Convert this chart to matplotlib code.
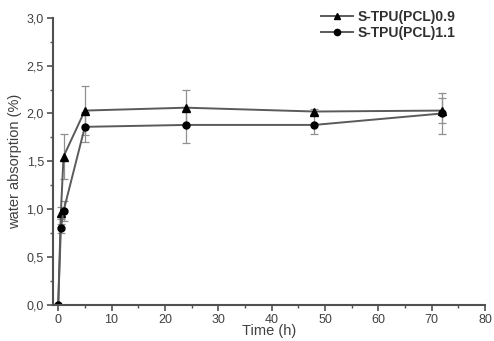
import matplotlib
matplotlib.use("Agg")
import matplotlib.pyplot as plt
from matplotlib.lines import Line2D
from matplotlib.ticker import MultipleLocator, FuncFormatter

# water absorption data
time_09 = [0, 0.5, 1, 5, 24, 48, 72]
wa_09 = [0, 0.96, 1.55, 2.03, 2.06, 2.02, 2.03]
err_09 = [0, 0.06, 0.24, 0.26, 0.19, 0.03, 0.13]

time_11 = [0, 0.5, 1, 5, 24, 48, 72]
wa_11 = [0, 0.80, 0.98, 1.86, 1.88, 1.88, 2.00]
err_11 = [0, 0.05, 0.10, 0.16, 0.19, 0.10, 0.21]

labels = ["S-TPU(PCL)0.9", "S-TPU(PCL)1.1"]

plt.rcParams['font.family'] = ['Liberation Sans', 'DejaVu Sans']
txt = '#404040'
line_c = '#5a5a5a'

fig = plt.figure(figsize=(4.94, 3.41), dpi=100)
ax = fig.add_axes([0.107, 0.106, 0.875, 0.842])

ax.errorbar(time_09, wa_09, yerr=err_09, color=line_c, lw=1.4,
            marker='^', ms=5.5, mfc='black', mec='black',
            ecolor='#909090', elinewidth=0.9, capsize=3, capthick=0.9)
ax.errorbar(time_11, wa_11, yerr=err_11, color=line_c, lw=1.4,
            marker='o', ms=5, mfc='black', mec='black',
            ecolor='#909090', elinewidth=0.9, capsize=3, capthick=0.9)

ax.set_xlim(-1, 80)
ax.set_ylim(0, 3.0)
ax.xaxis.set_major_locator(MultipleLocator(10))
ax.xaxis.set_minor_locator(MultipleLocator(5))
ax.yaxis.set_major_locator(MultipleLocator(0.5))
ax.yaxis.set_minor_locator(MultipleLocator(0.25))
ax.yaxis.set_major_formatter(FuncFormatter(lambda v, p: f"{v:.1f}".replace('.', ',')))

for s in ['top', 'right']:
    ax.spines[s].set_visible(False)
for s in ['left', 'bottom']:
    ax.spines[s].set_color('#505050')
    ax.spines[s].set_linewidth(1.5)

ax.tick_params(which='major', direction='out', length=4.5, width=1.2,
               color='#505050', labelsize=9, labelcolor=txt, pad=2)
ax.tick_params(which='minor', direction='out', length=2.5, width=1.0,
               color='#505050')

ax.set_xlabel('Time (h)', fontsize=10.5, color=txt, labelpad=-1)
ax.set_ylabel('water absorption (%)', fontsize=10.5, color=txt, labelpad=3)

handles = [
    Line2D([], [], color=line_c, lw=1.4, marker='^', ms=5, mfc='black', mec='black'),
    Line2D([], [], color=line_c, lw=1.4, marker='o', ms=4.5, mfc='black', mec='black'),
]
leg = ax.legend(handles, labels, loc='upper right', bbox_to_anchor=(0.96, 1.07),
                frameon=False, handlelength=2.3, handletextpad=0.3,
                labelspacing=0.15, prop={'weight': 'bold', 'size': 10})
for t in leg.get_texts():
    t.set_color('#303030')

fig.savefig('out.png', dpi=100)
